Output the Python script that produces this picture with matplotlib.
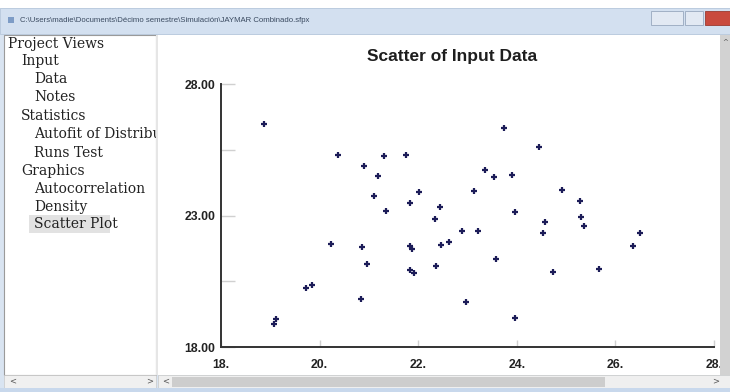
import matplotlib
matplotlib.use("Agg")
import matplotlib.pyplot as plt
from matplotlib.patches import Rectangle

W, H = 730, 392

# scatter values
x_vals = [18.88, 20.37, 21.31, 21.75, 20.90, 21.18, 21.11, 22.01, 21.83, 22.44,
          21.35, 23.75, 24.46, 23.36, 23.53, 23.91, 23.13, 24.92, 25.29, 23.97,
          22.34, 22.88, 20.24, 20.87, 21.84, 21.88, 22.46, 22.63, 20.97, 21.84,
          21.91, 22.37, 19.72, 19.84, 20.83, 22.97, 19.12, 19.08, 25.31, 24.57,
          25.36, 23.21, 24.53, 26.50, 26.36, 23.58, 24.74, 25.67, 23.96]
y_vals = [26.47, 25.30, 25.25, 25.29, 24.88, 24.49, 23.74, 23.89, 23.49, 23.34,
          23.17, 26.32, 25.62, 24.73, 24.45, 24.54, 23.94, 23.96, 23.55, 23.12,
          22.87, 22.42, 21.90, 21.81, 21.83, 21.74, 21.89, 21.99, 21.16, 20.92,
          20.80, 21.09, 20.23, 20.35, 19.84, 19.72, 19.08, 18.87, 22.95, 22.74,
          22.61, 22.42, 22.35, 22.33, 21.84, 21.33, 20.85, 20.95, 19.10]

y_major = [18, 23, 28]
y_major_labels = ["18.00", "23.00", "28.00"]
y_minor = [20.5, 25.5]
x_ticks = [18, 20, 22, 24, 26, 28]
x_tick_labels = ["18.", "20.", "22.", "24.", "26.", "28."]

chart_title = "Scatter of Input Data"
window_title = "C:\\Users\\madie\\Documents\\Décimo semestre\\Simulación\\JAYMAR Combinado.sfpx"
tree_items = [("Project Views", 0), ("Input", 1), ("Data", 2), ("Notes", 2),
              ("Statistics", 1), ("Autofit of Distributions", 2), ("Runs Test", 2),
              ("Graphics", 1), ("Autocorrelation", 2), ("Density", 2),
              ("Scatter Plot", 2)]

fig = plt.figure(figsize=(W / 100, H / 100), dpi=100, facecolor="#d9e4f1")


def box(x0, y0, x1, y1, **kw):
    # rectangle in screen pixels, origin top-left
    fig.add_artist(Rectangle((x0 / W, 1 - y1 / H), (x1 - x0) / W, (y1 - y0) / H,
                             transform=fig.transFigure, **kw))


def label(x, y, s, **kw):
    fig.text(x / W, 1 - y / H, s, **kw)


# window chrome
box(0, 0, W, 8, fc="white", lw=0)
box(0, 8, W, 34, fc="#d3e0f0", ec="#b8c8dc", lw=0.6)
box(8, 17, 14, 23, fc="#7d9cc6", lw=0)
label(20, 21, window_title, fontsize=5.6, color="#3a4a60", va="center",
      family="Liberation Sans")
box(651, 11, 683, 25, fc="#e2e9f3", ec="#98a8be", lw=0.6)
box(685, 11, 703, 25, fc="#e2e9f3", ec="#98a8be", lw=0.6)
box(705, 11, 730, 25, fc="#c94a3e", ec="#9a3a30", lw=0.6)

# project tree
box(4, 35, 156, 375, fc="white", ec="#9a9a9a", lw=0.8)
box(29, 215, 110, 233, fc="#e2e2e2", lw=0, zorder=1)
tree_y = [44, 61, 79, 97, 116, 134, 153, 171, 189, 207, 224]
for (name, level), ty in zip(tree_items, tree_y):
    label(8 + 13 * level, ty, name, fontsize=10, va="center", color="#222222",
          family="DejaVu Serif", zorder=1.5)
box(156, 35, 158, 375, fc="#e6e6e6", lw=0, zorder=2)
box(158, 35, 720, 375, fc="white", lw=0, zorder=2)

# chart
ax = fig.add_axes([221 / W, 1 - 347 / H, (714 - 221) / W, (347 - 84) / H])
ax.set_zorder(3)
ax.patch.set_alpha(0)
ax.plot(x_vals, y_vals, linestyle="none", marker="+", markersize=5,
        markeredgewidth=1.6, color="#1c1c58")
ax.set_xlim(18, 28)
ax.set_ylim(18, 28)
for side in ["top", "right"]:
    ax.spines[side].set_visible(False)
for side in ["left", "bottom"]:
    ax.spines[side].set_color("#333333")
    ax.spines[side].set_linewidth(1.4)
ax.set_yticks(y_major)
ax.set_yticklabels(y_major_labels)
ax.set_yticks(y_minor, minor=True)
ax.set_xticks(x_ticks)
ax.set_xticklabels(x_tick_labels)
ax.tick_params(axis="y", which="both", direction="in", length=10, color="#d0d0d0",
               width=1, pad=4)
ax.tick_params(axis="x", which="both", direction="in", length=5, color="#d0d0d0",
               width=1, pad=9)
for t in ax.get_xticklabels() + ax.get_yticklabels():
    t.set_fontweight("bold")
    t.set_fontsize(8.8)
    t.set_color("#222222")
    t.set_family("Liberation Sans")
label(452, 57, chart_title, fontsize=12.5, fontweight="bold", ha="center", va="center",
      color="#1e1e1e", family="Liberation Sans")

# scrollbars
box(720, 35, W, 375, fc="#d2d2d2", lw=0, zorder=10)
label(722, 42, "^", fontsize=5, va="center", color="#555555", zorder=12)
box(4, 375, 156, 388, fc="#f0f0f0", ec="#c8c8c8", lw=0.5, zorder=10)
box(158, 375, W, 388, fc="#efefef", ec="#c8c8c8", lw=0.5, zorder=10)
box(172, 377, 605, 387, fc="#cdcdcd", lw=0, zorder=11)
label(9, 381, "<", fontsize=6, va="center", color="#555555", zorder=12)
label(146, 381, ">", fontsize=6, va="center", color="#555555", zorder=12)
label(162, 381, "<", fontsize=6, va="center", color="#555555", zorder=12)
label(712, 381, ">", fontsize=6, va="center", color="#555555", zorder=12)
box(0, 388, W, H, fc="#c8d8ec", lw=0, zorder=10)

fig.savefig("out.png", dpi=100, facecolor=fig.get_facecolor())
